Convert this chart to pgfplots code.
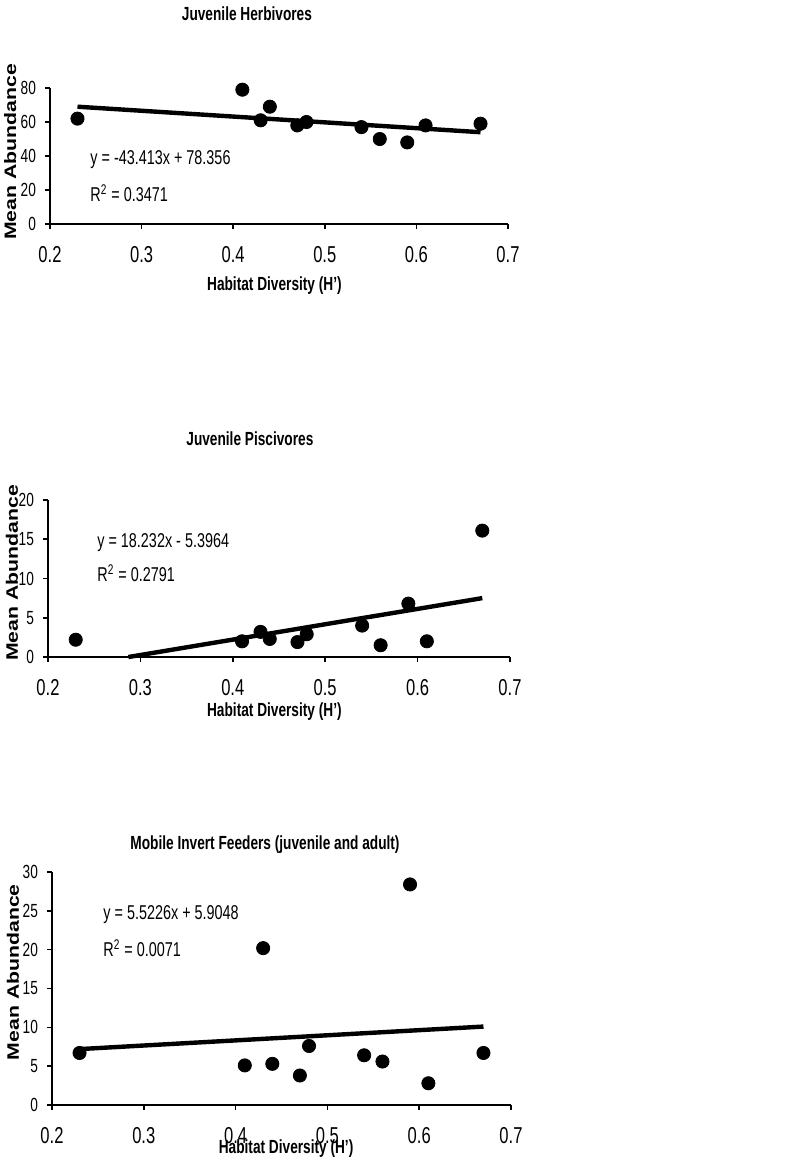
\documentclass[border=0pt]{standalone}
\usepackage{fontspec}
\setmainfont{Liberation Sans}[FakeStretch=0.72]
\newfontfamily\ylabfont{Liberation Sans}[FakeStretch=1.28]
\usepackage{pgfplots}
\pgfplotsset{compat=1.18}

\pgfplotsset{
  panel/.style={
    scale only axis,
    clip=false,
    xmin=0.2, xmax=0.7, ymin=0,
    xtick={0.2,0.3,0.4,0.5,0.6,0.7},
    axis x line=bottom, axis y line=left,
    axis line style={-, line width=0.8pt},
    tick style={black, line width=0.8pt},
    tick align=outside, major tick length=2.5pt,
    /pgf/number format/assume math mode=true,
    /pgf/number format/fixed,
    xticklabel style={font=\fontsize{11.5}{12}\selectfont, yshift=-5pt},
    yticklabel style={font=\fontsize{9.5}{10}\selectfont, xshift=-1pt},
    xlabel style={font=\bfseries\fontsize{9.5}{10}\selectfont, anchor=center},
    ylabel style={font=\ylabfont\bfseries\fontsize{8.3}{9}\selectfont, anchor=center, rotate=0},
  },
  dots/.style={only marks, mark=*, mark size=3.3pt, black},
  trend/.style={black, line width=2.2pt},
}
\tikzset{
  eq/.style={anchor=west, font=\fontsize{10}{12}\selectfont, inner sep=0pt},
  ttl/.style={anchor=center, font=\bfseries\fontsize{9.5}{10}\selectfont, inner sep=0pt},
}

\begin{document}
\begin{tikzpicture}
\useasboundingbox (0,0) rectangle (400.5pt,-580.5pt);

% Juvenile Herbivores
\begin{axis}[panel,
  at={(25pt,-112pt)}, anchor=south west,
  width=229pt, height=68pt,
  ymax=80, ytick={0,20,40,60,80},
  xlabel={Habitat Diversity (H')},
  xlabel style={at={(axis description cs:0.49,-0.45)}},
  ylabel={Mean Abundance},
  ylabel style={at={(axis description cs:-0.087,0.53)}},
]
  \addplot[trend] coordinates {(0.23,69) (0.67,54)};
  \addplot[dots] coordinates {
    (0.23,62) (0.41,79) (0.43,61) (0.44,69) (0.47,58) (0.48,60)
    (0.54,57) (0.56,50) (0.59,48) (0.61,58) (0.67,59)};
  \node[eq] at (axis cs:0.2437,37.6) {y = -43.413x + 78.356};
  \node[eq] at (axis cs:0.2437,18.2) {R\textsuperscript{2} = 0.3471};
  \node[ttl] at (axis description cs:0.43,1.55) {Juvenile Herbivores};
\end{axis}

% Juvenile Piscivores
\begin{axis}[panel,
  at={(24pt,-328.5pt)}, anchor=south west,
  width=231pt, height=78.5pt,
  ymax=20, ytick={0,5,10,15,20},
  xlabel={Habitat Diversity (H')},
  xlabel style={at={(axis description cs:0.49,-0.35)}},
  ylabel={Mean Abundance},
  ylabel style={at={(axis description cs:-0.078,0.535)}},
]
  \addplot[trend] coordinates {(0.287,0) (0.67,7.5)};
  \addplot[dots] coordinates {
    (0.23,2.2) (0.41,2.0) (0.43,3.2) (0.44,2.3) (0.47,1.9) (0.48,2.9)
    (0.54,4.0) (0.56,1.5) (0.59,6.8) (0.61,2.0) (0.67,16.1)};
  \node[eq] at (axis cs:0.253,14.6) {y = 18.232x - 5.3964};
  \node[eq] at (axis cs:0.253,10.7) {R\textsuperscript{2} = 0.2791};
  \node[ttl] at (axis description cs:0.437,1.39) {Juvenile Piscivores};
\end{axis}

% Mobile Invert Feeders
\begin{axis}[panel,
  at={(26pt,-552.5pt)}, anchor=south west,
  width=229.5pt, height=116.5pt,
  ymax=30, ytick={0,5,10,15,20,25,30},
  xlabel={Habitat Diversity (H')},
  xlabel style={at={(axis description cs:0.51,-0.185)}},
  ylabel={Mean Abundance},
  ylabel style={at={(axis description cs:-0.085,0.57)}},
]
  \addplot[trend] coordinates {(0.23,7.2) (0.67,10.1)};
  \addplot[dots] coordinates {
    (0.23,6.7) (0.41,5.1) (0.43,20.2) (0.44,5.3) (0.47,3.8) (0.48,7.6)
    (0.54,6.4) (0.56,5.6) (0.59,28.4) (0.61,2.8) (0.67,6.7)};
  \node[eq] at (axis cs:0.2556,24.5) {y = 5.5226x + 5.9048};
  \node[eq] at (axis cs:0.2556,20.2) {R\textsuperscript{2} = 0.0071};
  \node[ttl] at (axis description cs:0.464,1.116) {Mobile Invert Feeders (juvenile and adult)};
\end{axis}
\end{tikzpicture}
\end{document}
